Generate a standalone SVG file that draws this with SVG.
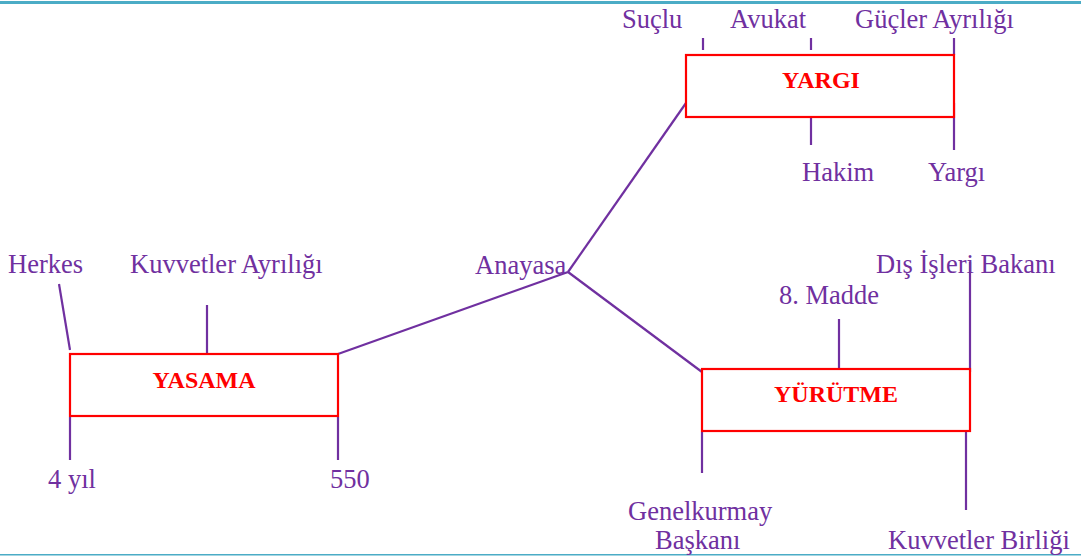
<svg xmlns="http://www.w3.org/2000/svg" width="1081" height="557" viewBox="0 0 1081 557">
<style>
.lbl{font-family:"Liberation Serif","Times New Roman",serif;font-size:26.5px;fill:#7030A0}
.box{fill:#fff;stroke:#FF0000;stroke-width:2.2}
.title{font-family:"Liberation Serif","Times New Roman",serif;font-size:24px;font-weight:bold;fill:#FF0000;text-anchor:middle}
.ln{stroke:#7030A0;stroke-width:2.2;fill:none}
</style>
<rect x="0" y="0" width="1081" height="557" fill="#fff"/>
<rect x="0" y="1" width="1081" height="3" fill="#4BACC6"/>
<rect x="0" y="554" width="1081" height="1.5" fill="#4BACC6"/>
<g id="connectors">
<line class="ln" x1="568" y1="272" x2="686" y2="103"/>
<line class="ln" x1="568" y1="272" x2="338" y2="354"/>
<line class="ln" x1="568" y1="272" x2="702" y2="372"/>
<line class="ln" x1="703" y1="38" x2="703" y2="50"/>
<line class="ln" x1="811" y1="38" x2="811" y2="50"/>
<line class="ln" x1="954" y1="38" x2="954" y2="55"/>
<line class="ln" x1="811" y1="103" x2="811" y2="145"/>
<line class="ln" x1="954" y1="103" x2="954" y2="150"/>
<line class="ln" x1="59" y1="284" x2="70" y2="350"/>
<line class="ln" x1="207" y1="305" x2="207" y2="354"/>
<line class="ln" x1="70" y1="417" x2="70" y2="460"/>
<line class="ln" x1="338" y1="417" x2="338" y2="460"/>
<line class="ln" x1="839" y1="319" x2="839" y2="369"/>
<line class="ln" x1="970" y1="262" x2="970" y2="372"/>
<line class="ln" x1="702" y1="432" x2="702" y2="473"/>
<line class="ln" x1="966" y1="426" x2="966" y2="510"/>
</g>
<g id="yargi">
<rect class="box" x="686" y="55" width="268" height="62"/>
<text class="title" x="821" y="88">YARGI</text>
</g>
<g id="yasama">
<rect class="box" x="70" y="354" width="268" height="62"/>
<text class="title" x="204" y="388">YASAMA</text>
</g>
<g id="yurutme">
<rect class="box" x="702" y="369" width="268" height="62"/>
<text class="title" x="836" y="402">YÜRÜTME</text>
</g>
<g id="anayasa"><text class="lbl" x="475" y="274">Anayasa</text></g>
<g id="suclu"><text class="lbl" x="622" y="28">Suçlu</text></g>
<g id="avukat"><text class="lbl" x="730" y="28">Avukat</text></g>
<g id="gucler"><text class="lbl" x="855" y="28">Güçler Ayrılığı</text></g>
<g id="hakim"><text class="lbl" x="802" y="181">Hakim</text></g>
<g id="yargi-lbl"><text class="lbl" x="928" y="181">Yargı</text></g>
<g id="herkes"><text class="lbl" x="8" y="273">Herkes</text></g>
<g id="kuvvetler-ayriligi"><text class="lbl" x="130" y="273">Kuvvetler Ayrılığı</text></g>
<g id="dort-yil"><text class="lbl" x="48" y="488">4 yıl</text></g>
<g id="n550"><text class="lbl" x="330" y="488">550</text></g>
<g id="madde"><text class="lbl" x="779" y="304">8. Madde</text></g>
<g id="disisleri"><text class="lbl" x="876" y="273">Dış İşleri Bakanı</text></g>
<g id="genelkurmay"><text class="lbl" x="628" y="520">Genelkurmay</text><text class="lbl" x="655" y="549">Başkanı</text></g>
<g id="kuvvetler-birligi"><text class="lbl" x="888" y="549">Kuvvetler Birliği</text></g>
</svg>
